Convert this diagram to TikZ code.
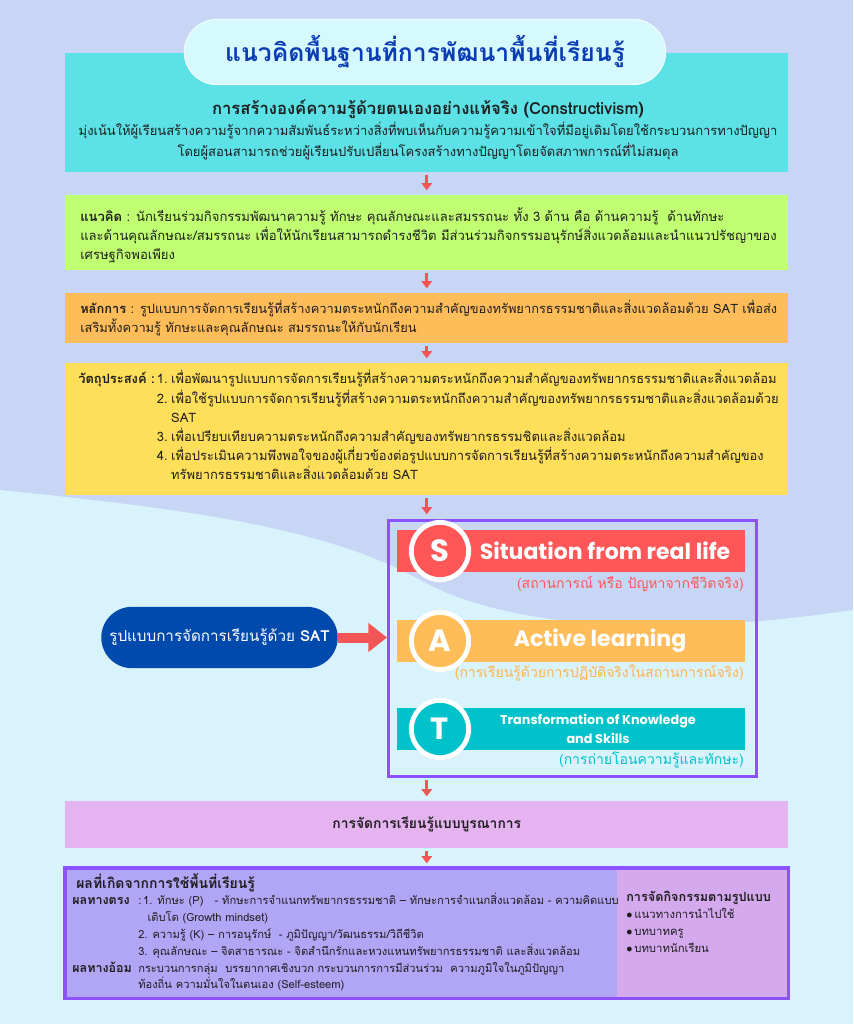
\documentclass[tikz,border=0pt]{standalone}
\usepackage{fontspec}
\setmainfont[Script=Thai]{Loma}
\newfontfamily\poppins{Poppins}
\usepackage{xcolor}
\usetikzlibrary{shapes,arrows.meta,positioning,calc}
\definecolor{bgTop}{HTML}{C7D6F4}
\definecolor{bgLow}{HTML}{D8F3FB}
\definecolor{titleBlue}{HTML}{0B3CB4}
\definecolor{pillFill}{HTML}{D6F9FD}
\definecolor{boxCyan}{HTML}{5CE1E6}
\definecolor{boxGreen}{HTML}{C1FF72}
\definecolor{boxOrange}{HTML}{FFBD59}
\definecolor{boxYellow}{HTML}{FFDE59}
\definecolor{boxPink}{HTML}{E4B3F0}
\definecolor{boxLilac}{HTML}{B1A5F6}
\definecolor{boxMauve}{HTML}{D5A9EE}
\definecolor{framePurple}{HTML}{8C52FF}
\definecolor{satRed}{HTML}{FF5757}
\definecolor{satOrange}{HTML}{FFB44F}
\definecolor{satTeal}{HTML}{00C2CB}
\definecolor{modelBlue}{HTML}{004AAD}
\definecolor{arrowRed}{HTML}{F25555}
\definecolor{inkDark}{HTML}{1E1E1E}

\begin{document}
\begin{tikzpicture}[
    x=0.75pt, y=-0.75pt,
    font=\fontsize{9.8}{14.4}\selectfont,
    panel/.style={anchor=north west, minimum width=542.25pt, inner sep=0pt},
    txt/.style={anchor=west, align=left, inner sep=0pt, text=inkDark},
    flow/.style={draw=arrowRed, line width=2.2pt, -{Triangle[width=8pt, length=5.5pt]}, shorten <=1.5pt, shorten >=3.5pt},
    push/.style={draw=arrowRed, line width=7.5pt, -{Triangle[width=21pt, length=14pt]}},
    satBar/.style={anchor=north west, minimum width=261pt, minimum height=31.5pt, inner sep=0pt},
    satDot/.style={circle, draw=white, line width=3.6pt, minimum size=43pt, inner sep=0pt, text=white, font=\poppins\bfseries\fontsize{23}{23}\selectfont},
    satHead/.style={text=white, align=center, inner sep=0pt, font=\poppins\bfseries\fontsize{16.5}{18}\selectfont},
    satNote/.style={anchor=east, inner sep=0pt, font=\fontsize{10.5}{12}\selectfont}
  ]
    \useasboundingbox (0,0) rectangle (853,1024);
    \fill[bgTop] (0,0) rectangle (853,1024);
    \fill[bgLow] (0,490) .. controls (200,510) and (330,530) .. (420,580) .. controls (500,625) and (650,640) .. (853,610) -- (853,1024) -- (0,1024) -- cycle;

    \node[panel, fill=boxCyan, minimum height=89.25pt] (cons) at (65,53) {};
    \node[rounded rectangle, fill=pillFill, draw=white!50!pillFill, line width=1pt, minimum width=367.5pt, minimum height=48.75pt, text=titleBlue, font=\bfseries\fontsize{18.5}{20}\selectfont] (title) at (425,52) {แนวคิดพื้นฐานที่การพัฒนาพื้นที่เรียนรู้};
    \node[txt, anchor=center, align=center, font=\fontsize{9.75}{16}\selectfont] (consTxt) at (428,130) {{\bfseries\fontsize{12.5}{16}\selectfont การสร้างองค์ความรู้ด้วยตนเองอย่างแท้จริง (Constructivism)}\\
      มุ่งเน้นให้ผู้เรียนสร้างความรู้จากความสัมพันธ์ระหว่างสิ่งที่พบเห็นกับความรู้ความเข้าใจที่มีอยู่เดิมโดยใช้กระบวนการทางปัญญา\\
      โดยผู้สอนสามารถช่วยผู้เรียนปรับเปลี่ยนโครงสร้างทางปัญญาโดยจัดสภาพการณ์ที่ไม่สมดุล};

    \node[panel, fill=boxGreen, minimum height=56.25pt] (idea) at (65,195) {};
    \node[txt] (ideaTxt) at (80,235) {\textbf{แนวคิด} : นักเรียนร่วมกิจกรรมพัฒนาความรู้ ทักษะ คุณลักษณะและสมรรถนะ ทั้ง 3 ด้าน คือ ด้านความรู้ ~ด้านทักษะ\\
      และด้านคุณลักษณะ/สมรรถนะ เพื่อให้นักเรียนสามารถดำรงชีวิต มีส่วนร่วมกิจกรรมอนุรักษ์สิ่งแวดล้อมและนำแนวปรัชญาของ\\
      เศรษฐกิจพอเพียง};

    \node[panel, fill=boxOrange, minimum height=37.5pt] (rule) at (65,293) {};
    \node[txt, font=\fontsize{9.65}{14.4}\selectfont] (ruleTxt) at (80,318) {\textbf{หลักการ} : รูปแบบการจัดการเรียนรู้ที่สร้างความตระหนักถึงความสำคัญของทรัพยากรธรรมชาติและสิ่งแวดล้อมด้วย SAT เพื่อส่ง\\
      เสริมทั้งความรู้ ทักษะและคุณลักษณะ สมรรถนะให้กับนักเรียน};

    \node[panel, fill=boxYellow, minimum height=99pt] (goal) at (65,363) {};
    \node[txt, font=\fontsize{9.7}{14.4}\selectfont] (goalTxt) at (78,428) {\begin{tabular}{@{}l@{\,}l@{\;}l@{}}
      \textbf{วัตถุประสงค์ :} & 1. & เพื่อพัฒนารูปแบบการจัดการเรียนรู้ที่สร้างความตระหนักถึงความสำคัญของทรัพยากรธรรมชาติและสิ่งแวดล้อม\\
       & 2. & เพื่อใช้รูปแบบการจัดการเรียนรู้ที่สร้างความตระหนักถึงความสำคัญของทรัพยากรธรรมชาติและสิ่งแวดล้อมด้วย\\
       & & SAT\\
       & 3. & เพื่อเปรียบเทียบความตระหนักถึงความสำคัญของทรัพยากรธรรมชิตและสิ่งแวดล้อม\\
       & 4. & เพื่อประเมินความพึงพอใจของผู้เกี่ยวข้องต่อรูปแบบการจัดการเรียนรู้ที่สร้างความตระหนักถึงความสำคัญของ\\
       & & ทรัพยากรธรรมชาติและสิ่งแวดล้อมด้วย SAT
    \end{tabular}};

    \node[anchor=north west, draw=framePurple, line width=2.4pt, minimum width=276pt, minimum height=192pt, inner sep=0pt] (frame) at (387,519) {};

    \node[satBar, fill=satRed] (sBar) at (397,530) {};
    \node[satHead] (sHead) at (605,551) {Situation from real life};
    \node[satDot, fill=satRed] (sDot) at (440,551) {S};
    \node[satNote, text=satRed] (sNote) at (744,584) {(สถานการณ์ หรือ ปัญหาจากชีวิตจริง)};

    \node[satBar, fill=boxOrange] (aBar) at (397,620) {};
    \node[satHead] (aHead) at (600,641) {Active learning};
    \node[satDot, fill=boxOrange] (aDot) at (440,641) {A};
    \node[satNote, text=satOrange] (aNote) at (744,673) {(การเรียนรู้ด้วยการปฏิบัติจริงในสถานการณ์จริง)};

    \node[satBar, fill=satTeal] (tBar) at (397,708) {};
    \node[satHead, font=\poppins\bfseries\fontsize{9.6}{14}\selectfont] (tHead) at (598,729) {Transformation of Knowledge\\and Skills};
    \node[satDot, fill=satTeal] (tDot) at (440,729) {T};
    \node[satNote, text=satTeal] (tNote) at (744,760) {(การถ่ายโอนความรู้และทักษะ)};

    \node[rounded rectangle, fill=modelBlue, text=white, minimum width=184pt, minimum height=46pt, font=\fontsize{11.4}{13}\selectfont] (model) at (219.5,637.5) {รูปแบบการจัดการเรียนรู้ด้วย \textbf{SAT}};
    \draw[push] (model.east) -- (model.east -| frame.west);

    \node[panel, fill=boxPink, minimum height=35.25pt, text=inkDark, font=\bfseries\fontsize{10.4}{12}\selectfont] (blend) at (65,801) {การจัดการเรียนรู้แบบบูรณาการ};

    \node[anchor=north west, fill=boxLilac, minimum width=414pt, minimum height=97.5pt, inner sep=0pt] (result) at (65,868) {};
    \node[anchor=north west, fill=boxMauve, minimum width=128.25pt, minimum height=97.5pt, inner sep=0pt] (activity) at (617,868) {};
    \draw[framePurple, line width=2.4pt] (result.north west) rectangle (activity.south east);
    \node[txt, anchor=north west, font=\fontsize{8.35}{12.6}\selectfont] (resultTxt) at (72,873) {\begin{tabular}{@{}p{49.5pt}@{}l@{}}
      \multicolumn{2}{@{\hspace{3pt}}l}{\bfseries\fontsize{10.5}{12.6}\selectfont ผลที่เกิดจากการใช้พื้นที่เรียนรู้}\\
      {\bfseries\fontsize{9.4}{12.6}\selectfont ผลทางตรง} & :\,1. ทักษะ (P) ~ - ทักษะการจำแนกทรัพยากรธรรมชาติ – ทักษะการจำแนกสิ่งแวดล้อม - ความคิดแบบ\\
       & \hspace{7pt}เติบโต (Growth mindset)\\
       & 2. ความรู้ (K) – การอนุรักษ์ ~- ภูมิปัญญา/วัฒนธรรม/วิถีชีวิต\\
       & 3. คุณลักษณะ – จิตสาธารณะ - จิตสำนึกรักและหวงแหนทรัพยากรธรรมชาติ และสิ่งแวดล้อม\\
      {\bfseries\fontsize{9.4}{12.6}\selectfont ผลทางอ้อม} & กระบวนการกลุ่ม ~บรรยากาศเชิงบวก กระบวนการการมีส่วนร่วม ~ความภูมิใจในภูมิปัญญา\\
       & ท้องถิ่น ความมั่นใจในตนเอง (Self-esteem)
    \end{tabular}};
    \node[txt, anchor=north west, font=\fontsize{8.5}{12.8}\selectfont] (activityTxt) at (626,891) {\textbf{\fontsize{9.5}{12.8}\selectfont การจัดกิจกรรมตามรูปแบบ}\\
      {\small$\bullet$}\,แนวทางการนำไปใช้\\
      {\small$\bullet$}\,บทบาทครู\\
      {\small$\bullet$}\,บทบาทนักเรียน};

    \draw[flow] (cons.south) -- (idea.north);
    \draw[flow] (idea.south) -- (rule.north);
    \draw[flow] (rule.south) -- (goal.north);
    \draw[flow] (goal.south) -- (goal.south |- frame.north);
    \draw[flow] (goal.south |- frame.south) -- (blend.north);
    \draw[flow] (blend.south) -- (result.north -| blend.south);
  \end{tikzpicture}
\end{document}
